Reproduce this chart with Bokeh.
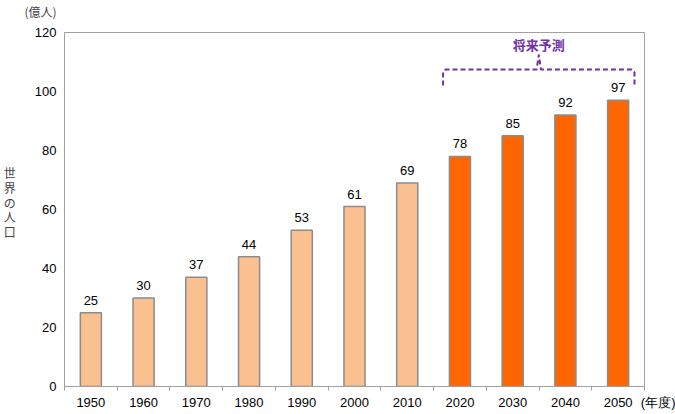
from bokeh.plotting import figure
from bokeh.models import FixedTicker, ColumnDataSource, Title
from bokeh.core.properties import value
from bokeh.embed import file_html
from bokeh.resources import INLINE

years = ["1950", "1960", "1970", "1980", "1990", "2000", "2010", "2020", "2030", "2040", "2050"]
population = [25, 30, 37, 44, 53, 61, 69, 78, 85, 92, 97]
forecast = [False, False, False, False, False, False, False, True, True, True, True]
y_ticks = [0, 20, 40, 60, 80, 100, 120]

LIGHT = "#FAC090"
DARK = "#FF6600"
PURPLE = "#7030A0"
NUM_FONT = "Liberation Sans"
JP_FONT = "Noto Sans CJK JP"

n = len(years)
xs = [i + 0.5 for i in range(n)]
colors = [DARK if f else LIGHT for f in forecast]
src = ColumnDataSource(dict(x=xs, top=population, color=colors,
                            label=[str(v) for v in population]))

p = figure(width=675, height=412, x_range=(0, n), y_range=(0, 120),
           output_backend="svg", toolbar_location=None,
           min_border_left=64, min_border_right=31, min_border_top=32, min_border_bottom=24)
p.outline_line_color = "#A0A0A0"
p.outline_line_width = 1
p.xgrid.visible = False
p.ygrid.visible = False

p.vbar(x="x", top="top", width=0.4, bottom=0, fill_color="color",
       line_color="#8C8C8C", line_width=1.5, source=src)
p.text(x="x", y="top", text="label", source=src, text_align="center",
       text_baseline="bottom", y_offset=-8, text_font_size="13px",
       text_font=value(NUM_FONT), text_color="#000000")

# x axis (the unit label sits as an extra tick label at the right edge)
labels = {x: y for x, y in zip(xs, years)}
labels[float(n)] = "\u3000\u3000\u00a0(年度)"
p.xaxis.ticker = FixedTicker(ticks=xs + [float(n)], minor_ticks=list(range(n + 1)))
p.xaxis.major_label_overrides = labels
p.xaxis.major_tick_out = 0
p.xaxis.major_tick_in = 0
p.xaxis.minor_tick_out = 4
p.xaxis.minor_tick_in = 0
p.xaxis.minor_tick_line_color = "#A0A0A0"
p.xaxis.axis_line_color = "#A0A0A0"
p.xaxis.major_label_standoff = 4
p.xaxis.major_label_text_font = NUM_FONT
p.xaxis.major_label_text_font_size = "13px"
p.xaxis.major_label_text_color = "#000000"

# y axis
p.yaxis.ticker = FixedTicker(ticks=y_ticks)
p.yaxis.major_tick_out = 0
p.yaxis.major_tick_in = 0
p.yaxis.minor_tick_out = 0
p.yaxis.minor_tick_in = 0
p.yaxis.axis_line_color = "#A0A0A0"
p.yaxis.major_label_standoff = 8
p.yaxis.major_label_text_font = NUM_FONT
p.yaxis.major_label_text_font_size = "13px"
p.yaxis.major_label_text_color = "#000000"
p.yaxis.axis_label = "世\n界\nの\n人\n口\n"
p.yaxis.axis_label_orientation = "horizontal"
p.yaxis.axis_label_text_font = JP_FONT
p.yaxis.axis_label_text_font_size = "12px"
p.yaxis.axis_label_text_font_style = "normal"
p.yaxis.axis_label_text_line_height = 0.88
p.yaxis.axis_label_standoff = 16

# unit title above the y axis
p.add_layout(Title(text="(億人)\n", align="left", offset=-40, standoff=0,
                   text_line_height=0.72,
                   text_font=JP_FONT, text_font_size="12px", text_font_style="normal"),
             "above")

# forecast bracket
first = forecast.index(True)
left = xs[first] - 0.32
right = xs[-1] + 0.31
mid = (left + right) / 2
bx = [left, left, left + 0.05, mid - 0.04, mid, mid + 0.04, right - 0.05, right, right]
by = [102, 106.5, 107.5, 107.5, 112.5, 107.5, 107.5, 106.5, 102]
p.line(bx, by, line_color=PURPLE, line_width=2, line_dash="5 3")
p.text(x=[mid], y=[116], text=["将来予測"], text_align="center", text_baseline="middle",
       text_font=value(JP_FONT), text_font_size="13px", text_font_style="bold",
       text_color=PURPLE)

open("out.html", "w").write(file_html(p, INLINE))
